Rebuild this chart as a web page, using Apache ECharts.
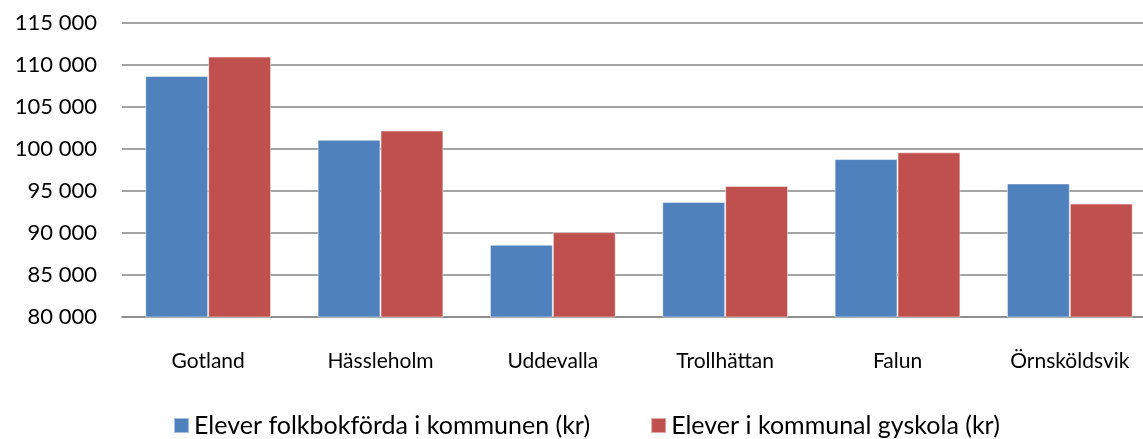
<!DOCTYPE html>
<html>
<head>
<meta charset="utf-8">
<script src="https://cdn.jsdelivr.net/npm/echarts@6/dist/echarts.min.js"></script>
<style>
  html, body { margin: 0; padding: 0; background: #fff; overflow: hidden; }
  /* plotytan fortsätter lite utanför bildens högerkant, som i originalet */
  #chart { width: 1156px; height: 439px; }
</style>
</head>
<body>
<div id="chart"></div>
<script>
// kategorier och värden (kr per elev)
var categories = ["Gotland", "Hässleholm", "Uddevalla", "Trollhättan", "Falun", "Örnsköldsvik"];
var folkbokforda = [108700, 101100, 88600, 93700, 98800, 95900];
var kommunal = [111000, 102200, 90100, 95600, 99600, 93500];
var seriesNames = ["Elever folkbokförda i kommunen (kr)", "Elever i kommunal gyskola (kr)"];

var font = "Lato, 'Open Sans', sans-serif";

var chart = echarts.init(document.getElementById("chart"));
chart.setOption({
  animation: false,
  textStyle: { fontFamily: font },
  grid: { left: 122, right: 0, top: 23, bottom: 122 },
  legend: {
    data: seriesNames,
    top: 408,
    left: 168,
    itemWidth: 15,
    itemHeight: 15,
    itemGap: 60,
    icon: "rect",
    textStyle: { fontFamily: font, fontSize: 25, color: "#000" }
  },
  xAxis: {
    type: "category",
    data: categories,
    axisTick: { show: false },
    axisLine: { lineStyle: { color: "#868686", width: 1.5 } },
    axisLabel: { margin: 34, fontSize: 21, color: "#000", fontFamily: font }
  },
  yAxis: {
    type: "value",
    min: 80000,
    max: 115000,
    interval: 5000,
    axisLine: { show: false },
    axisTick: { show: false },
    splitLine: { lineStyle: { color: "#868686", width: 1.5 } },
    axisLabel: {
      margin: 25,
      fontSize: 22,
      color: "#000",
      fontFamily: font,
      formatter: function (v) {
        return String(v).replace(/\B(?=(\d{3})+(?!\d))/g, " ");
      }
    }
  },
  series: [
    {
      name: seriesNames[0],
      type: "bar",
      data: folkbokforda,
      barGap: "0%",
      barCategoryGap: "27%",
      itemStyle: { color: "#4F81BD", borderColor: "rgba(255,255,255,0.5)", borderWidth: 1 }
    },
    {
      name: seriesNames[1],
      type: "bar",
      data: kommunal,
      barGap: "0%",
      barCategoryGap: "27%",
      itemStyle: { color: "#C0504D", borderColor: "rgba(255,255,255,0.5)", borderWidth: 1 }
    }
  ]
});
</script>
</body>
</html>
